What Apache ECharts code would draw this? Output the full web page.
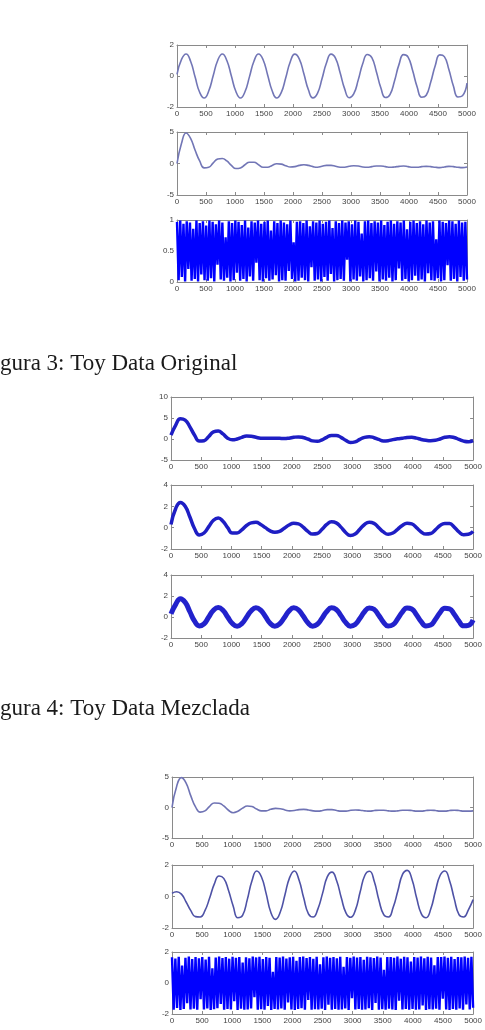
<!DOCTYPE html>
<html>
<head>
<meta charset="utf-8">
<script src="https://cdn.jsdelivr.net/npm/echarts@6/dist/echarts.min.js"></script>
<style>html,body{margin:0;padding:0;background:#fff}#c{width:485px;height:1030px}</style>
</head>
<body>
<div id="c"></div>
<script>
// ---- data ----
const xTicks = [0,500,1000,1500,2000,2500,3000,3500,4000,4500,5000];
const captions = ["gura 3: Toy Data Original", "gura 4: Toy Data Mezclada"];

// Figure 3 (original)
const sig1 = [0.11,1.07,1.42,0.95,-0.07,-1.05,-1.42,-0.97,0.03,1.02,1.42,1.00,0.00,-1.00,-1.42,-1.02,-0.04,0.97,1.42,1.05,0.07,-0.95,-1.42,-1.07,-0.11,0.92,1.41,1.09,0.14,-0.89,-1.41,-1.12,-0.18,0.86,1.41,1.14,0.21,-0.83,-1.40,-1.16,-0.25,0.80,1.39,1.18,0.28,-0.78,-1.39,-1.20,-0.32,0.75,1.38,1.22,0.35,-0.71,-1.37,-1.24,-0.39,0.68,1.36,1.25,0.42,-0.65,-1.35,-1.27,-0.46];
const sig2 = [0.0,3.2,4.85,4.0,2.1,0.4,-0.7,-0.6,0.1,0.7,0.8,0.4,-0.3,-0.8,-0.7,-0.2,0.2,0.2,-0.2,-0.6,-0.6,-0.3,-0.05,-0.1,-0.35,-0.55,-0.5,-0.3,-0.2,-0.3,-0.5,-0.6,-0.45,-0.3,-0.3,-0.45,-0.6,-0.6,-0.45,-0.35,-0.4,-0.55,-0.6,-0.5,-0.4,-0.4,-0.5,-0.6,-0.55,-0.45,-0.4,-0.5,-0.6,-0.6,-0.5,-0.45,-0.5,-0.6,-0.65,-0.55,-0.45,-0.5,-0.6,-0.65,-0.55];
const sig3 = [0.97,0.03,0.99,0.08,0.94,0.01,0.98,0.21,0.96,0.02,
0.86,0.05,0.99,0.01,0.95,0.12,0.98,0.03,0.91,0.02,
0.99,0.06,0.97,0.01,0.93,0.28,0.99,0.04,0.96,0.02,
0.72,0.07,0.98,0.01,0.95,0.03,0.99,0.15,0.97,0.02,
0.92,0.05,0.99,0.01,0.88,0.09,0.98,0.02,0.96,0.31,
0.99,0.03,0.94,0.01,0.97,0.06,0.99,0.02,0.83,0.04,
0.98,0.11,0.95,0.01,0.99,0.03,0.96,0.02,0.93,0.18,
0.99,0.05,0.64,0.01,0.97,0.02,0.98,0.07,0.95,0.03,
0.99,0.01,0.9,0.24,0.98,0.02,0.96,0.04,0.99,0.01,
0.94,0.08,0.97,0.02,0.99,0.13,0.87,0.01,0.98,0.03,
0.95,0.05,0.99,0.02,0.96,0.36,0.98,0.01,0.93,0.04,
0.99,0.02,0.97,0.09,0.78,0.01,0.98,0.03,0.99,0.06,
0.95,0.02,0.98,0.17,0.96,0.01,0.99,0.04,0.92,0.02,
0.97,0.07,0.99,0.01,0.94,0.03,0.98,0.22,0.96,0.02,
0.99,0.05,0.85,0.01,0.97,0.03,0.99,0.1,0.95,0.02,
0.98,0.04,0.93,0.01,0.99,0.14,0.96,0.03,0.98,0.02,
0.69,0.06,0.99,0.01,0.97,0.03,0.95,0.27,0.99,0.02,
0.98,0.05,0.94,0.01,0.99,0.08,0.96,0.02,0.97,0.04];

// Figure 4 (mixed)
const mix1 = [0.9,3.3,4.8,4.5,2.9,0.9,-0.5,-0.4,0.6,1.7,1.9,1.2,0.2,-0.2,0.0,0.4,0.7,0.65,0.4,0.2,0.15,0.2,0.2,0.15,0.1,0.2,0.4,0.5,0.35,0.0,-0.45,-0.55,-0.2,0.4,0.85,0.85,0.4,-0.3,-0.85,-0.7,-0.1,0.4,0.55,0.3,-0.1,-0.45,-0.4,-0.15,0.05,0.2,0.35,0.4,0.2,-0.1,-0.3,-0.4,-0.3,0.0,0.4,0.55,0.35,-0.1,-0.5,-0.65,-0.4];
const mix2 = [0.3,1.8,2.35,2.0,1.0,-0.1,-0.68,-0.5,0.1,0.7,0.9,0.6,0.0,-0.5,-0.5,-0.2,0.2,0.45,0.5,0.3,0.0,-0.3,-0.43,-0.35,-0.05,0.25,0.41,0.35,0.05,-0.35,-0.6,-0.55,-0.15,0.3,0.55,0.45,0.05,-0.45,-0.74,-0.6,-0.15,0.3,0.5,0.4,0.0,-0.4,-0.62,-0.5,-0.15,0.2,0.41,0.35,0.0,-0.4,-0.6,-0.55,-0.2,0.2,0.4,0.38,0.05,-0.4,-0.66,-0.62,-0.35];
const mix3 = [0.3,1.2,1.75,1.4,0.5,-0.4,-0.85,-0.65,0.0,0.65,0.9,0.65,0.0,-0.62,-0.88,-0.63,-0.02,0.6,0.88,0.65,0.04,-0.59,-0.88,-0.66,-0.07,0.57,0.87,0.68,0.09,-0.55,-0.87,-0.69,-0.11,0.53,0.87,0.71,0.13,-0.51,-0.87,-0.72,-0.15,0.5,0.86,0.73,0.17,-0.48,-0.86,-0.74,-0.2,0.46,0.86,0.76,0.22,-0.44,-0.85,-0.77,-0.24,0.42,0.84,0.78,0.26,-0.4,-0.84,-0.79,-0.28];

// Recovered (last figure)
const rec1 = [0.0,3.5,4.9,4.0,1.9,0.1,-0.75,-0.55,0.2,0.75,0.7,0.25,-0.45,-0.85,-0.6,-0.1,0.25,0.15,-0.25,-0.55,-0.55,-0.3,-0.15,-0.2,-0.4,-0.55,-0.5,-0.35,-0.3,-0.4,-0.55,-0.6,-0.5,-0.35,-0.35,-0.5,-0.6,-0.6,-0.45,-0.4,-0.45,-0.55,-0.6,-0.5,-0.45,-0.45,-0.55,-0.6,-0.55,-0.45,-0.45,-0.5,-0.6,-0.6,-0.5,-0.45,-0.5,-0.6,-0.6,-0.5,-0.45,-0.5,-0.6,-0.6,-0.55];
const rec2 = [0.2,0.3,0.15,-0.35,-0.9,-1.28,-1.3,-0.9,-0.1,0.8,1.3,1.15,0.4,-0.6,-1.35,-1.2,-0.2,1.0,1.62,1.25,0.2,-1.0,-1.45,-1.0,0.1,1.2,1.62,1.05,-0.1,-1.1,-1.3,-0.8,0.2,1.25,1.55,1.0,-0.1,-1.05,-1.32,-0.85,0.3,1.35,1.6,0.95,-0.25,-1.15,-1.3,-0.7,0.35,1.4,1.66,1.1,-0.1,-1.1,-1.35,-0.8,0.35,1.35,1.62,1.0,-0.15,-1.15,-1.3,-0.85,-0.2];
const rec3 = [1.66,-1.72,1.58,-1.61,1.69,-1.74,1.12,-1.68,1.63,-1.3,
1.7,-1.71,1.55,-1.66,1.67,-1.73,1.6,-1.05,1.68,-1.7,
1.52,-1.65,1.69,-1.74,0.95,-1.69,1.64,-1.62,1.7,-1.35,
1.61,-1.73,1.67,-1.68,1.57,-1.71,1.69,-1.18,1.63,-1.74,
1.68,-1.66,1.32,-1.72,1.66,-1.7,1.59,-1.64,1.7,-0.92,
1.65,-1.73,1.69,-1.69,1.54,-1.72,1.67,-1.48,1.62,-1.74,
0.72,-1.67,1.68,-1.71,1.64,-1.65,1.7,-1.73,1.58,-1.25,
1.66,-1.7,1.69,-1.74,1.43,-1.68,1.67,-1.62,1.7,-1.72,
1.61,-1.1,1.68,-1.73,1.56,-1.69,1.69,-1.71,1.2,-1.66,
1.66,-1.74,1.7,-1.4,1.63,-1.72,1.68,-1.67,1.59,-1.73,
1.69,-1.7,1.05,-1.65,1.67,-1.74,1.62,-0.98,1.7,-1.71,
1.64,-1.68,1.68,-1.73,1.5,-1.7,1.69,-1.62,1.66,-1.74,
1.61,-1.28,1.7,-1.72,1.65,-1.69,0.85,-1.73,1.68,-1.66,
1.67,-1.71,1.63,-1.74,1.7,-1.15,1.57,-1.7,1.69,-1.68,
1.66,-1.73,1.38,-1.67,1.68,-1.72,1.64,-1.7,1.7,-1.45,
1.6,-1.74,1.69,-1.69,1.65,-1.71,1.15,-1.66,1.68,-1.73,
1.67,-1.02,1.7,-1.7,1.62,-1.74,1.69,-1.68,1.55,-1.72,
1.68,-1.65,1.66,-1.73,1.7,-1.38,1.63,-1.7,1.69,-1.6];

// y-axis ranges [min, max, interval]
const yRanges = [[-2,2,2],[-5,5,5],[0,1,0.5],[-5,10,5],[-2,4,2],[-2,4,2],[-5,5,5],[-2,2,2],[-2,2,2]];

// ---- layout / styles ----
const panels = [
  {data: sig1, box:[177,45,290,62],  color:'#7276b6', width:1.6, smooth:true},
  {data: sig2, box:[177,132,290,63], color:'#7276b6', width:1.6, smooth:true},
  {data: sig3, box:[177,220,290,62], color:'#0000ff', width:2.4, smooth:false},
  {data: mix1, box:[171,397,304,63], color:'#1e1ec4', width:3.5, smooth:true},
  {data: mix2, box:[171,485,304,64], color:'#1e1ec4', width:3.5, smooth:true},
  {data: mix3, box:[171,575,304,63], color:'#2222cc', width:5,   smooth:true},
  {data: rec1, box:[172,777,306,61], color:'#6f73b4', width:1.6, smooth:true},
  {data: rec2, box:[172,865,306,63], color:'#4e52a6', width:1.6, smooth:true},
  {data: rec3, box:[172,952,306,62], color:'#0000ff', width:2.4, smooth:false}
];

const axisColor = '#8a8a8a';
const labelStyle = {color:'#444', fontSize:8, fontFamily:'Liberation Sans', margin:3, formatter: v => String(v)};

const grid = [], xAxis = [], yAxis = [], series = [];
panels.forEach((p, i) => {
  const [l,t,w,h] = p.box;
  grid.push({left:l, top:t, width:w, height:h, containLabel:false});
  const xBase = {type:'value', gridIndex:i, min:xTicks[0], max:xTicks[xTicks.length-1], interval:xTicks[1]-xTicks[0],
    axisLine:{show:true, onZero:false, lineStyle:{color:axisColor, width:1}},
    axisTick:{show:true, inside:true, length:3, lineStyle:{color:axisColor}},
    splitLine:{show:false}};
  xAxis.push(Object.assign({}, xBase, {position:'bottom', axisLabel:labelStyle}));
  xAxis.push(Object.assign({}, xBase, {position:'top', axisLabel:{show:false}}));
  const [mn,mx,iv] = yRanges[i];
  const yBase = {type:'value', gridIndex:i, min:mn, max:mx, interval:iv,
    axisLine:{show:true, onZero:false, lineStyle:{color:axisColor, width:1}},
    axisTick:{show:true, inside:true, length:3, lineStyle:{color:axisColor}},
    splitLine:{show:false}};
  yAxis.push(Object.assign({}, yBase, {position:'left', axisLabel:labelStyle}));
  yAxis.push(Object.assign({}, yBase, {position:'right', axisLabel:{show:false}}));
  const n = p.data.length;
  series.push({type:'line', xAxisIndex:2*i, yAxisIndex:2*i, showSymbol:false, smooth:p.smooth,
    data: p.data.map((v,k) => [k*5000/(n-1), v]),
    lineStyle:{color:p.color, width:p.width, join:'bevel'}, clip:true, silent:true});
});

const chart = echarts.init(document.getElementById('c'), null, {renderer:'canvas'});
chart.setOption({
  animation:false,
  backgroundColor:'#fff',
  grid, xAxis, yAxis, series,
  graphic:[
    {type:'text', x:0, y:375, style:{text:captions[0], font:'23px "Liberation Serif"', fill:'#1a1a1a', verticalAlign:'bottom'}},
    {type:'text', x:0, y:720, style:{text:captions[1], font:'23px "Liberation Serif"', fill:'#1a1a1a', verticalAlign:'bottom'}}
  ]
});
</script>
</body>
</html>
